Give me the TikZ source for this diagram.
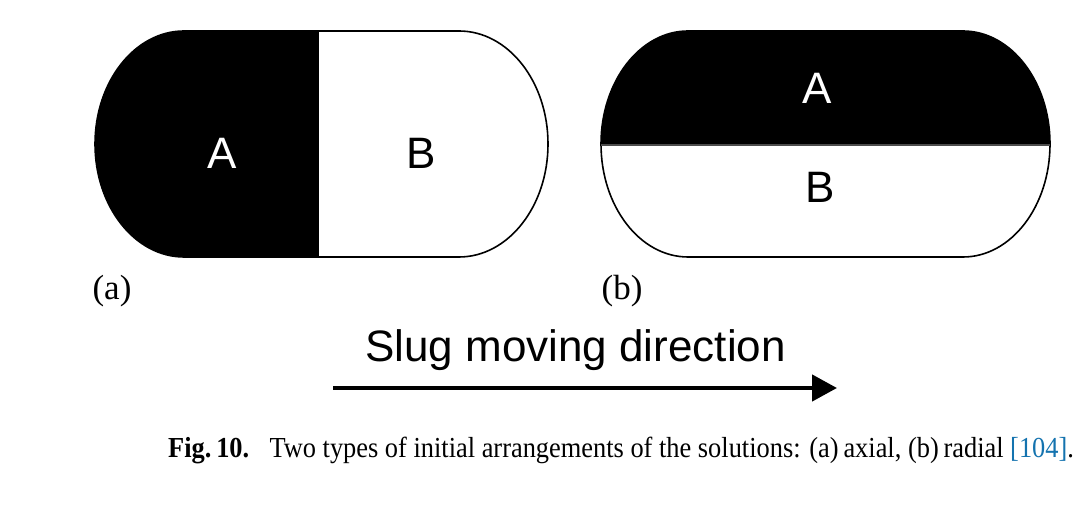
\documentclass[tikz,border=0pt]{standalone}
\usepackage{fontspec}
\setmainfont{Liberation Serif}
\newfontfamily\labfont{Liberation Sans}
\newfontfamily\capfont[FakeStretch=0.91]{Liberation Serif}
\usetikzlibrary{arrows.meta}
\definecolor{citeblue}{RGB}{20,115,175}
\tikzset{
  outline/.style={draw=black,line width=1.6pt},
  letterW/.style={font=\labfont\fontsize{44}{44}\selectfont,text=white,inner sep=0pt},
  letterB/.style={font=\labfont\fontsize{44}{44}\selectfont,text=black,inner sep=0pt},
  sublabel/.style={font=\fontsize{35}{35}\selectfont,inner sep=0pt},
  movearrow/.style={line width=4.5pt,-{Triangle[length=25pt,width=26pt]}},
}
\begin{document}
\begin{tikzpicture}[x=1pt,y=1pt]
\useasboundingbox (0,0) rectangle (1083,510);
% (a) axial
\def\capA{(184,479) -- (459,479) arc[start angle=90,end angle=-90,x radius=89pt,y radius=113pt] -- (184,253) arc[start angle=270,end angle=90,x radius=89pt,y radius=113pt] -- cycle}
\begin{scope}
\clip \capA;
\fill[black] (0,0) rectangle (319,510);
\end{scope}
\draw[outline] \capA;
\node[letterW] (A1) at (222,357) {A};
\node[letterB] (B1) at (421,357) {B};
% (b) radial
\def\capB{(688,479) -- (963,479) arc[start angle=90,end angle=-90,x radius=87pt,y radius=113pt] -- (688,253) arc[start angle=270,end angle=90,x radius=87pt,y radius=113pt] -- cycle}
\begin{scope}
\clip \capB;
\fill[black] (0,365) rectangle (1083,510);
\end{scope}
\draw[outline] \capB;
\draw[line width=1.2pt,black!70] (601,365) -- (1050,365);
\node[letterW] (A2) at (817,422) {A};
\node[letterB] (B2) at (820,323) {B};
% sub labels
\node[sublabel] (la) at (112,219) {(a)};
\node[sublabel] (lb) at (622,219) {(b)};
% direction
\node[anchor=base west,inner sep=0pt,font=\labfont\fontsize{44}{44}\selectfont] (slug) at (365,148) {Slug moving direction};
\coordinate (ar1) at (333,122);
\coordinate (ar2) at (837,122);
\draw[movearrow] (ar1) -- (ar2);
% caption
\node[anchor=base west,inner sep=0pt,font=\capfont\fontsize{29}{29}\selectfont] (cap) at (168,52) {\textbf{Fig.\,10.}\hspace{0.7em}Two types of initial arrangements of the solutions: (a)\,axial, (b)\,radial \textcolor{citeblue}{[104]}.};
\end{tikzpicture}
\end{document}
